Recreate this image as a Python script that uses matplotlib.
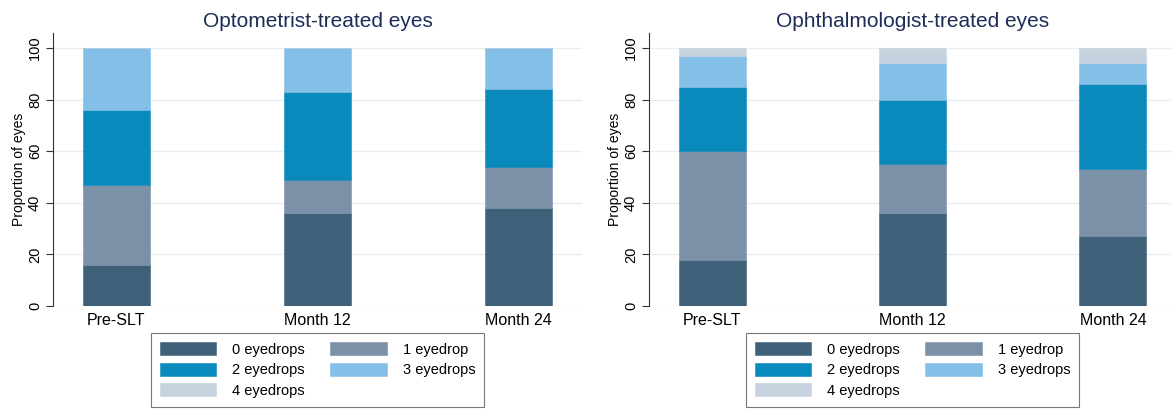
import matplotlib
matplotlib.use('Agg')
import matplotlib.pyplot as plt
import numpy as np

plt.rcParams['font.family'] = ['Liberation Sans', 'DejaVu Sans']

timepoints = ['Pre-SLT', 'Month 12', 'Month 24']
categories = ['0 eyedrops', '1 eyedrop', '2 eyedrops', '3 eyedrops', '4 eyedrops']
colors = ['#3e6079', '#7b91a8', '#0a8abc', '#84bfe8', '#c6d3df']

# proportion of eyes (%) per eyedrop count, one value per timepoint
optom = {
    '0 eyedrops': [16, 36, 38],
    '1 eyedrop': [31, 13, 16],
    '2 eyedrops': [29, 34, 30],
    '3 eyedrops': [24, 17, 16],
    '4 eyedrops': [0, 0, 0],
}
ophth = {
    '0 eyedrops': [18, 36, 27],
    '1 eyedrop': [42, 19, 26],
    '2 eyedrops': [25, 25, 33],
    '3 eyedrops': [12, 14, 8],
    '4 eyedrops': [3, 6, 6],
}

titles = ['Optometrist-treated eyes', 'Ophthalmologist-treated eyes']

fig = plt.figure(figsize=(11.71, 4.09), dpi=100)
ax1 = fig.add_axes([53/1171, 103/409, 529/1171, 273/409])
ax2 = fig.add_axes([649/1171, 103/409, 527/1171, 273/409])

x = np.arange(len(timepoints))
for ax, data, title in zip([ax1, ax2], [optom, ophth], titles):
    bottom = np.zeros(len(timepoints))
    handles = []
    for cat, col in zip(categories, colors):
        vals = np.array(data[cat], dtype=float)
        h = ax.bar(x, vals, width=0.335, bottom=bottom, color=col,
                   edgecolor=col, linewidth=0.4, label=cat, zorder=3)
        handles.append(h)
        bottom += vals
    ax.set_xlim(-0.315, 2.315)
    ax.set_ylim(0, 105.8)
    ax.set_yticks([0, 20, 40, 60, 80, 100])
    ax.set_xticks(x)
    ax.set_xticklabels(timepoints, fontsize=11.5)
    ax.tick_params(axis='x', length=0, pad=5)
    ax.tick_params(axis='y', length=5, width=0.8, color='#333333', labelsize=10.5, pad=3)
    for lab in ax.get_yticklabels():
        lab.set_rotation(90)
        lab.set_va('center')
    ax.grid(axis='y', color='#e6eef2', linewidth=1.0, zorder=0)
    for s in ['top', 'right', 'bottom']:
        ax.spines[s].set_visible(False)
    ax.spines['left'].set_color('#333333')
    ax.spines['left'].set_linewidth(0.8)
    ax.set_ylabel('Proportion of eyes', fontsize=10, labelpad=1)
    ax.set_title(title, fontsize=15, color='#1e2d57', pad=4)
    # legend fills row by row: 0,1 / 2,3 / 4
    order = [0, 2, 4, 1, 3]
    leg = ax.legend([handles[i] for i in order], [categories[i] for i in order],
                    ncol=2, loc='upper center', bbox_to_anchor=(0.5, -0.1),
                    borderaxespad=0, fontsize=10.5, frameon=True, fancybox=False,
                    edgecolor='#555555', handlelength=3.9, handleheight=1.0,
                    columnspacing=1.7, handletextpad=1.1, labelspacing=0.42,
                    borderpad=0.6)
    leg.get_frame().set_linewidth(0.8)

fig.savefig('out.png', dpi=100)
